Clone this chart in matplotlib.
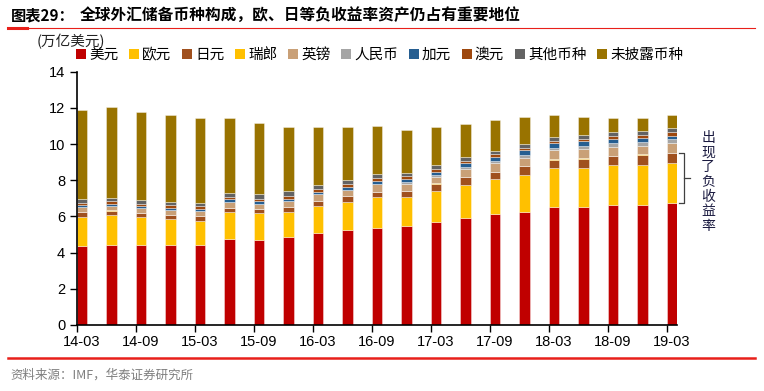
import numpy as np
import matplotlib
matplotlib.use("Agg")
import matplotlib.pyplot as plt
from matplotlib.patches import Patch
from matplotlib.lines import Line2D

plt.rcParams["font.family"] = ["Noto Sans CJK SC", "DejaVu Sans"]

quarters = ["14-03", "14-06", "14-09", "14-12", "15-03", "15-06", "15-09", "15-12",
            "16-03", "16-06", "16-09", "16-12", "17-03", "17-06", "17-09", "17-12",
            "18-03", "18-06", "18-09", "18-12", "19-03"]

# trillion USD
usd = [4.38, 4.40, 4.44, 4.40, 4.44, 4.77, 4.72, 4.85, 5.07, 5.25, 5.38,
       5.49, 5.71, 5.90, 6.12, 6.26, 6.54, 6.54, 6.63, 6.62, 6.73]
eur = [1.61, 1.68, 1.51, 1.46, 1.33, 1.46, 1.45, 1.41, 1.52, 1.57, 1.68,
       1.60, 1.70, 1.84, 1.93, 2.03, 2.12, 2.16, 2.21, 2.22, 2.21]
jpy = [0.23, 0.24, 0.24, 0.22, 0.25, 0.23, 0.22, 0.26, 0.27, 0.31, 0.29,
       0.32, 0.40, 0.44, 0.41, 0.48, 0.48, 0.49, 0.50, 0.57, 0.57]
chf = [0.03, 0.02, 0.02, 0.02, 0.02, 0.02, 0.02, 0.02, 0.02, 0.02, 0.02,
       0.02, 0.02, 0.02, 0.02, 0.02, 0.02, 0.02, 0.02, 0.02, 0.02]
gbp = [0.25, 0.24, 0.24, 0.26, 0.26, 0.32, 0.30, 0.31, 0.35, 0.33, 0.42,
       0.36, 0.37, 0.42, 0.46, 0.46, 0.51, 0.52, 0.50, 0.46, 0.51]
rmb = [0, 0, 0, 0, 0, 0, 0, 0, 0, 0, 0,
       0.09, 0.09, 0.13, 0.13, 0.15, 0.13, 0.18, 0.22, 0.24, 0.22]
cad = [0.12, 0.13, 0.13, 0.13, 0.13, 0.14, 0.13, 0.14, 0.14, 0.15, 0.16,
       0.18, 0.18, 0.19, 0.24, 0.25, 0.24, 0.24, 0.20, 0.19, 0.20]
aud = [0.11, 0.12, 0.11, 0.12, 0.12, 0.14, 0.14, 0.14, 0.14, 0.15, 0.15,
       0.16, 0.14, 0.13, 0.13, 0.12, 0.13, 0.11, 0.17, 0.17, 0.19]
other = [0.22, 0.21, 0.20, 0.17, 0.18, 0.23, 0.24, 0.26, 0.22, 0.25, 0.25,
         0.16, 0.23, 0.20, 0.20, 0.25, 0.21, 0.24, 0.24, 0.23, 0.26]
unalloc = [4.93, 4.99, 4.88, 4.83, 4.73, 4.15, 3.96, 3.54, 3.21, 2.93, 2.67,
           2.40, 2.09, 1.86, 1.68, 1.45, 1.23, 1.02, 0.73, 0.74, 0.70]

series = [("美元", usd, "#C00000"), ("欧元", eur, "#FFC000"), ("日元", jpy, "#A0501E"),
          ("瑞郎", chf, "#FFC000"), ("英镑", gbp, "#C9A077"), ("人民币", rmb, "#A5A5A5"),
          ("加元", cad, "#255E91"), ("澳元", aud, "#9E480E"), ("其他币种", other, "#636363"),
          ("未披露币种", unalloc, "#997300")]

fig = plt.figure(figsize=(7.64, 3.91), dpi=100)
ax = fig.add_axes([77 / 764, 1 - 325 / 391, 600 / 764, (325 - 71.7) / 391])

x = np.arange(len(quarters))
w = 0.34
bottom = np.zeros(len(quarters))
for name, vals, col in series:
    vals = np.array(vals, dtype=float)
    ax.bar(x, vals, w, bottom=bottom, color=col, edgecolor=(1, 1, 1, 0.45), linewidth=0.6)
    bottom += vals

ax.set_xlim(-w / 2, len(quarters) - 1 + w / 2)
ax.set_ylim(0, 14)
ax.set_yticks(np.arange(0, 15, 2))
ax.set_yticklabels([str(v) for v in range(0, 15, 2)], family="Liberation Sans", fontsize=10.5)
ax.set_xticks(x[::2] - w / 2)
ax.set_xticklabels([])
ax.set_xticks(x[::2], minor=True)
ax.set_xticklabels(quarters[::2], minor=True, family="Liberation Sans", fontsize=10.5)
ax.tick_params(axis="x", which="minor", length=0, pad=7)
ax.tick_params(axis="x", which="major", length=5, width=1)
ax.tick_params(axis="y", length=5, width=1)
for s in ["top", "right"]:
    ax.spines[s].set_visible(False)
for s in ["left", "bottom"]:
    ax.spines[s].set_linewidth(1.2)

# bracket for negative-yield assets (EUR + JPY of the last bar)
y0 = usd[-1]
y1 = usd[-1] + eur[-1] + jpy[-1]
xl, xr = len(quarters) - 1 + 0.24, len(quarters) - 1 + 0.41
bk = dict(color="#404040", lw=0.9, clip_on=False)
ax.add_line(Line2D([xl, xr, xr, xl], [y1, y1, y0, y0], **bk))
ax.add_line(Line2D([xr, xr + 0.2], [(y0 + y1) / 2] * 2, **bk))
fig.text(708 / 764, 1 - 182 / 391, "\n".join("出现了负收益率"), ha="center", va="center",
         fontsize=10, linespacing=1.05, color="#1a1a40")

# legend
handles = [Patch(facecolor=c, edgecolor="none") for _, _, c in series]
labels = [n for n, _, _ in series]
fig.legend(handles, labels, loc="center left", bbox_to_anchor=(76 / 764, 1 - 55 / 391),
           ncol=10, frameon=False, fontsize=10.5, handlelength=0.7, handleheight=0.7,
           handletextpad=0.2, columnspacing=0.73, borderpad=0, borderaxespad=0)
fig.text(37 / 764, 1 - 42 / 391, "(万亿美元)", ha="left", va="center", fontsize=10.5, color="#222222")

# title, rules, source
fig.text(11 / 764, 1 - 15 / 391, "图表29：", ha="left", va="center", fontsize=11, fontweight="bold")
fig.text(80 / 764, 1 - 15 / 391, "全球外汇储备币种构成，欧、日等负收益率资产仍占有重要地位",
         ha="left", va="center", fontsize=11.3, fontweight="bold")
fig.add_artist(Line2D([8 / 764, 755 / 764], [1 - 28 / 391] * 2, color="#E8201A", lw=0.8))
fig.add_artist(Line2D([8 / 764, 27 / 764], [1 - 28 / 391] * 2, color="#E8201A", lw=2.2))
fig.add_artist(Line2D([8 / 764, 755 / 764], [1 - 358 / 391] * 2, color="#E8201A", lw=1.8))
fig.text(10 / 764, 1 - 375 / 391, "资料来源：IMF，华泰证券研究所", ha="left", va="center",
         fontsize=9, color="#7f7f7f")

fig.savefig("out.png", dpi=100)
